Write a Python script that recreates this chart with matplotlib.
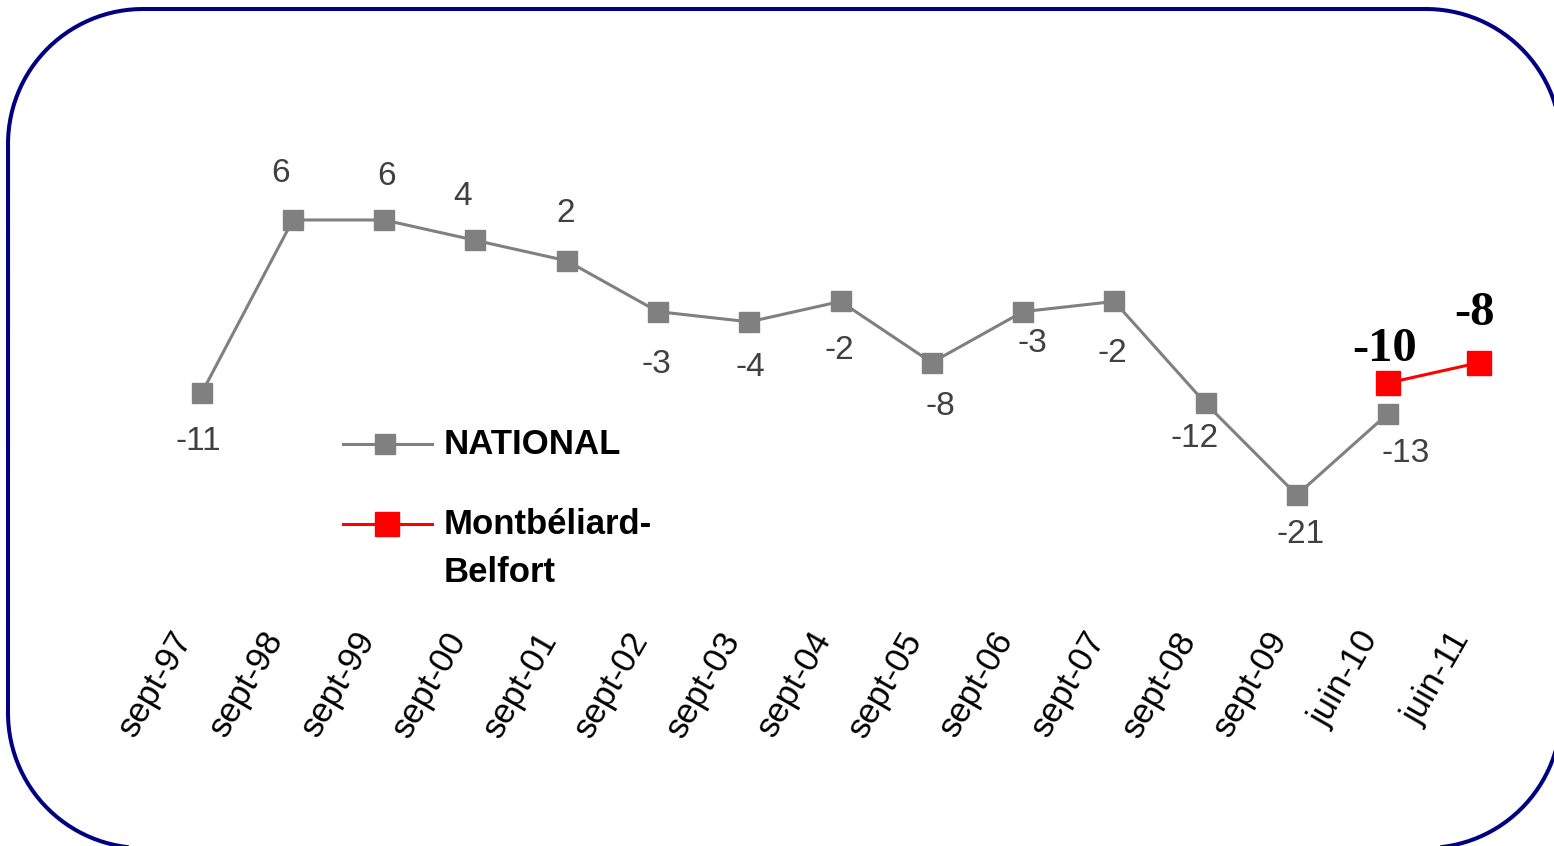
import matplotlib
matplotlib.use("Agg")
import numpy as np
import matplotlib.pyplot as plt
from matplotlib.lines import Line2D
from matplotlib.transforms import ScaledTranslation

# ---- data ----
categories = ["sept-97", "sept-98", "sept-99", "sept-00", "sept-01", "sept-02",
              "sept-03", "sept-04", "sept-05", "sept-06", "sept-07", "sept-08",
              "sept-09", "juin-10", "juin-11"]
national = [-11, 6, 6, 4, 2, -3, -4, -2, -8, -3, -2, -12, -21, -13]
local_idx = [13, 14]
local_vals = [-10, -8]
series_names = ["NATIONAL", "Montbéliard-\nBelfort"]

# label offsets in pixels (dx, dy with dy positive = up)
nat_off = [(-3, -48), (-12, 46), (2, 43), (-13, 44), (-1, 47), (-2, -53),
           (1, -46), (-1, -49), (9, -44), (9, -32), (-2, -52), (-11, -35),
           (4, -40), (18, -40)]
loc_off = [(-3, 34), (-5, 50)]

W, H = 1554, 846
DPI = 100
fig = plt.figure(figsize=(W / DPI, H / DPI), dpi=DPI)
fig.patch.set_facecolor("white")

PT = 72.0 / DPI  # points per pixel

# main axes in pixel geometry
x_left, x_right = 156, 1525
y_top, y_bot = 179.25, 617.2
ax = fig.add_axes([x_left / W, (H - y_bot) / H, (x_right - x_left) / W, (y_bot - y_top) / H])
ax.set_xlim(-0.5, 14.5)
ax.set_ylim(-33, 10)
ax.patch.set_visible(False)
for s in ax.spines.values():
    s.set_visible(False)
ax.set_yticks([])

xs = list(range(len(national)))
gray = "#808080"
red = "#FF0000"
ax.plot(xs, national, color=gray, lw=2.2, marker="s", ms=14, mfc=gray, mec=gray,
        zorder=3)
ax.plot(local_idx, local_vals, color=red, lw=2.2, marker="s", ms=17, mfc=red, mec=red,
        zorder=4)

for i, v in enumerate(national):
    dx, dy = nat_off[i]
    ax.annotate(str(v), (i, v), xytext=(dx * PT, dy * PT), textcoords="offset points",
                ha="center", va="center", fontsize=24, color="#404040",
                family="Liberation Sans")
for k, (i, v) in enumerate(zip(local_idx, local_vals)):
    dx, dy = loc_off[k]
    ax.annotate(str(v), (i, v), xytext=(dx * PT, dy * PT), textcoords="offset points",
                ha="center", va="center", fontsize=35, color="black",
                family="Liberation Serif", fontweight="bold")

ax.set_xticks(range(len(categories)))
ax.set_xticklabels(categories, fontsize=25, family="Liberation Sans", color="black")
ax.tick_params(axis="x", length=0, pad=12)
offset = ScaledTranslation(-17 / DPI, 0, fig.dpi_scale_trans)
for lab in ax.get_xticklabels():
    lab.set_rotation(60)
    lab.set_ha("right")
    lab.set_va("center")
    lab.set_rotation_mode("anchor")
    lab.set_transform(lab.get_transform() + offset)

# overlay in pixel coordinates (y up) for frame and legend
ov = fig.add_axes([0, 0, 1, 1])
ov.set_xlim(0, W)
ov.set_ylim(0, H)
ov.axis("off")
ov.patch.set_visible(False)


def py(y):
    return H - y


# rounded frame as a polyline (pixel coords, y down), partly outside the image
fx0, fy0, fx1, fy1, r = 8, 9, 1561, 848, 135
pts = []
corners = [((fx1 - r, fy0 + r), -90, 0), ((fx1 - r, fy1 - r), 0, 90),
           ((fx0 + r, fy1 - r), 90, 180), ((fx0 + r, fy0 + r), 180, 270)]
for (cx, cy), a0, a1 in corners:
    t = np.radians(np.linspace(a0, a1, 60))
    pts.extend(zip(cx + r * np.cos(t), cy + r * np.sin(t)))
pts.append(pts[0])
px_ = [p[0] for p in pts]
py_ = [py(p[1]) for p in pts]
ov.add_line(Line2D(px_, py_, color="#000080", lw=2.9, solid_joinstyle="round",
                   clip_on=False))

ov.add_line(Line2D([343, 432], [py(444), py(444)], color=gray, lw=2.2))
ov.add_line(Line2D([385], [py(444)], color=gray, marker="s", ms=14, mfc=gray, mec=gray))
ov.add_line(Line2D([343, 432], [py(524), py(524)], color=red, lw=2.2))
ov.add_line(Line2D([387], [py(524)], color=red, marker="s", ms=17, mfc=red, mec=red))

ov.text(444, py(444), series_names[0], ha="left", va="center", fontsize=25,
        fontweight="bold", family="Liberation Sans", color="black")
first, second = series_names[1].split("\n")
ov.text(444, py(524), first, ha="left", va="center", fontsize=25,
        fontweight="bold", family="Liberation Sans", color="black")
ov.text(444, py(572), second, ha="left", va="center", fontsize=25,
        fontweight="bold", family="Liberation Sans", color="black")

fig.savefig("out.png", dpi=DPI)
